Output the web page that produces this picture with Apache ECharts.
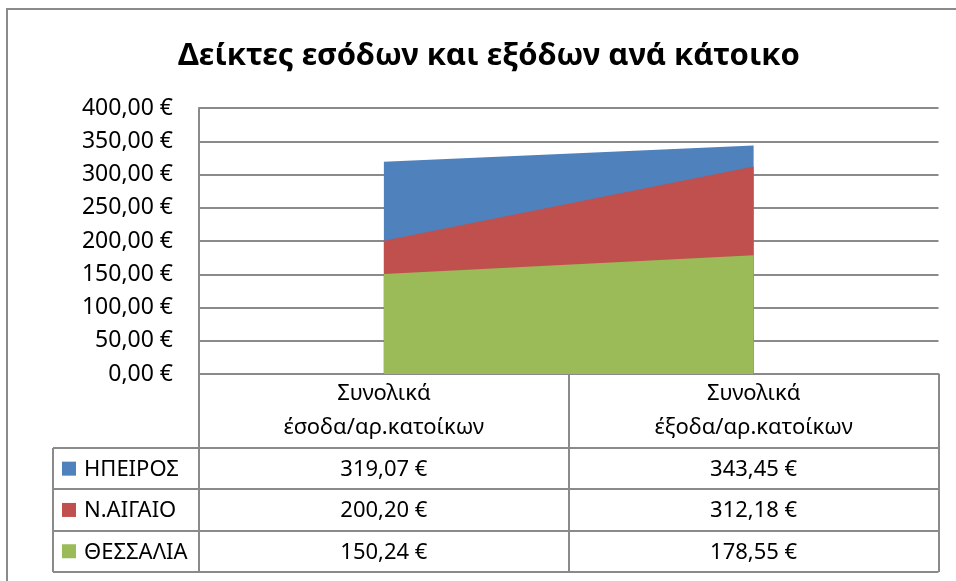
<!DOCTYPE html>
<html>
<head>
<meta charset="utf-8">
<script src="https://cdn.jsdelivr.net/npm/echarts@6/dist/echarts.min.js"></script>
<style>
  html, body { margin: 0; padding: 0; background: #fff; }
  #chart { width: 956px; height: 581px; }
</style>
</head>
<body>
<div id="chart"></div>
<script>
// chart data
var categories = ['Συνολικά\nέσοδα/αρ.κατοίκων', 'Συνολικά\nέξοδα/αρ.κατοίκων']
var regions = ['ΗΠΕΙΡΟΣ', 'Ν.ΑΙΓΑΙΟ', 'ΘΕΣΣΑΛΙΑ']
var hpeiros = [319.07, 343.45]
var naigaio = [200.20, 312.18]
var thessalia = [150.24, 178.55]
var yMin = 0
var yMax = 400
var yStep = 50

var colors = ['#4f81bd', '#c0504d', '#9bbb59']
var lineColor = '#8a8a8a'
var font = '"Noto Sans", "DejaVu Sans", sans-serif'

function euro (v) {
  return v.toFixed(2).replace('.', ',') + ' €'
}

var seriesData = [hpeiros, naigaio, thessalia]

var chart = echarts.init(document.getElementById('chart'), null, { renderer: 'canvas' })

var options = {
  animation: false,
  color: colors,
  textStyle: { fontFamily: font },
  title: {
    text: 'Δείκτες εσόδων και εξόδων ανά κάτοικο',
    left: 173,
    top: 36,
    textStyle: { fontFamily: font, fontSize: 31, fontWeight: 'bold', color: '#000' }
  },
  grid: {
    left: 199,
    right: 17.5,
    top: 108,
    bottom: 207
  },
  xAxis: {
    type: 'category',
    boundaryGap: true,
    data: categories,
    axisLine: { show: true, lineStyle: { color: lineColor, width: 2 } },
    axisTick: { show: true, interval: 0, alignWithLabel: false, length: 198, lineStyle: { color: lineColor, width: 2 } },
    axisLabel: { interval: 0, margin: 3, fontSize: 22, lineHeight: 34, color: '#000', fontFamily: font }
  },
  yAxis: {
    type: 'value',
    min: yMin,
    max: yMax,
    interval: yStep,
    axisLine: { show: true, lineStyle: { color: lineColor, width: 2 } },
    axisTick: { show: false },
    splitLine: { show: true, lineStyle: { color: lineColor, width: 2 } },
    axisLabel: { margin: 26, fontSize: 23, color: '#000', fontFamily: font, formatter: euro }
  },
  series: regions.map(function (name, i) {
    return {
      name: name,
      type: 'line',
      data: seriesData[i],
      showSymbol: false,
      lineStyle: { width: 0 },
      areaStyle: { color: colors[i], opacity: 1 },
      z: 2 + i
    }
  })
}

chart.setOption(options)

// data table under the plot, laid out from the axis positions
function buildTable () {
  var c0 = chart.convertToPixel({ xAxisIndex: 0 }, 0)
  var c1 = chart.convertToPixel({ xAxisIndex: 0 }, 1)
  var band = c1 - c0
  var left = c0 - band / 2
  var right = c1 + band / 2
  var y0 = chart.convertToPixel({ yAxisIndex: 0 }, yMin)
  var headH = 74
  var rowH = 41.3
  var keyColW = 146
  var tableLeft = left - keyColW
  var els = []
  var stroke = { stroke: lineColor, lineWidth: 2 }

  // outer chart frame
  els.push({ type: 'rect', shape: { x: 7, y: 9, width: 990, height: 600 }, style: { fill: null, stroke: '#8a8a8a', lineWidth: 2 }, silent: true })

  var rowsTop = y0 + headH
  var bottom = rowsTop + rowH * regions.length
  for (var r = 0; r <= regions.length; r++) {
    var yy = Math.round(rowsTop + rowH * r)
    els.push({ type: 'line', shape: { x1: tableLeft, y1: yy, x2: right, y2: yy }, style: stroke, silent: true })
  }
  els.push({ type: 'line', shape: { x1: tableLeft, y1: rowsTop, x2: tableLeft, y2: bottom }, style: stroke, silent: true })

  regions.forEach(function (name, i) {
    var cy = rowsTop + rowH * (i + 0.5)
    els.push({ type: 'rect', shape: { x: tableLeft + 9, y: cy - 7, width: 14, height: 14 }, style: { fill: colors[i] }, silent: true })
    els.push({ type: 'text', x: tableLeft + 31, y: cy + 1, style: { text: name, fontFamily: font, fontSize: 22, fill: '#000', verticalAlign: 'middle', align: 'left' }, silent: true })
    seriesData[i].forEach(function (v, j) {
      var cx = chart.convertToPixel({ xAxisIndex: 0 }, j)
      els.push({ type: 'text', x: cx, y: cy + 1, style: { text: euro(v), fontFamily: font, fontSize: 22, fill: '#000', verticalAlign: 'middle', align: 'center' }, silent: true })
    })
  })

  chart.setOption({ graphic: els })
}

buildTable()
</script>
</body>
</html>
